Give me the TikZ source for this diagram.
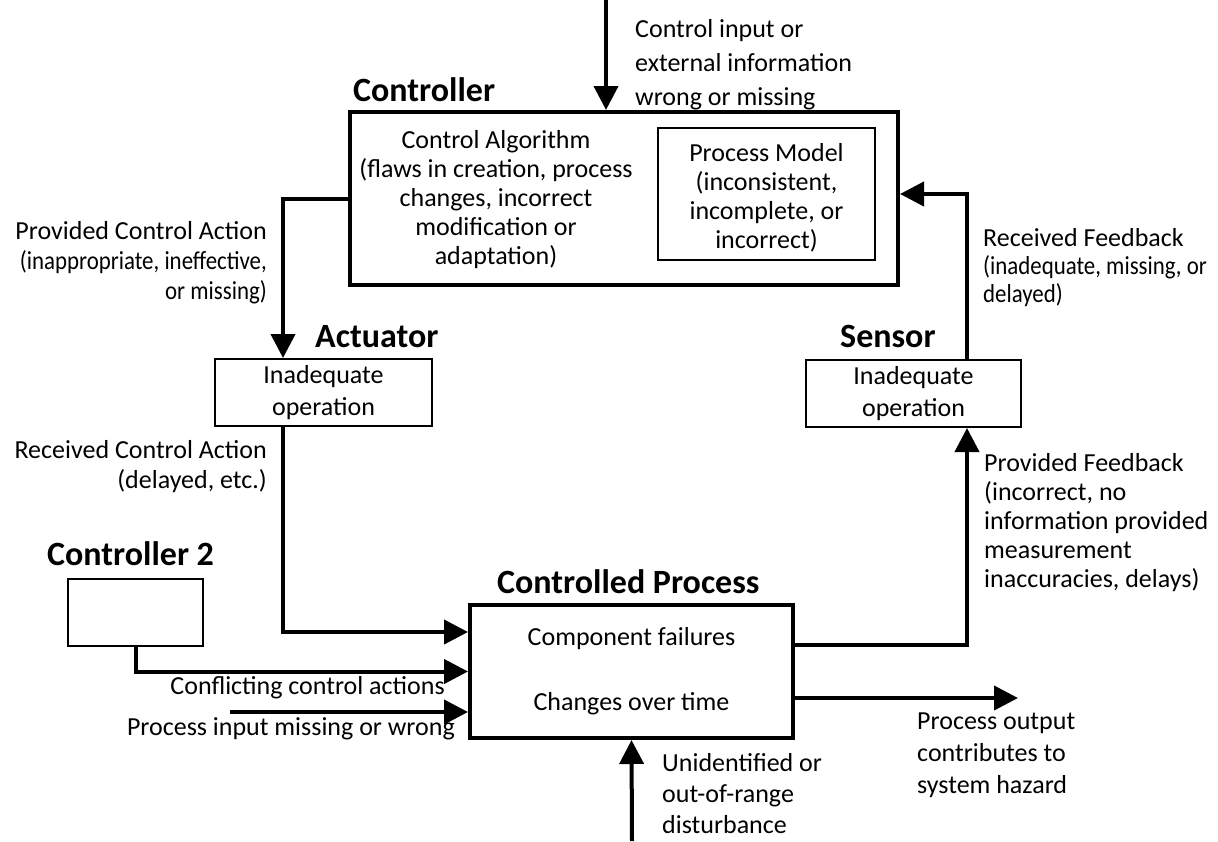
\documentclass[tikz,border=0pt]{standalone}
\usepackage{fontspec}
\setmainfont{Carlito}
\newfontfamily\narrowfont[FakeStretch=0.88]{Carlito}
\usetikzlibrary{arrows.meta}

\begin{document}
\begin{tikzpicture}[x=1pt,y=-1pt, >={Triangle[width=24pt,length=24pt]},
            every node/.style={font=\fontsize{26}{30}\selectfont},
            conn/.style={line width=4pt}]
            \tikzstyle{every node}+=[inner sep=0pt]
            \tikzstyle{mainbox}=[draw, line width=4pt]
            \tikzstyle{smallbox}=[draw, line width=2pt, align=center]
            \tikzstyle{title}=[anchor=base west, font=\fontsize{34}{40}\selectfont\bfseries]
            \useasboundingbox (0,0) rectangle (1218,841);
            \node [mainbox, minimum width=548pt, minimum height=173pt] (ctrl) at (624,198.5) {};
            \node [title] (ctrlT) at (353,101) {Controller};
            \node [align=center, font=\fontsize{26}{29}\selectfont] (alg) at (496,200) {Control Algorithm\\(flaws in creation, process\\changes, incorrect\\modification or\\adaptation)};
            \node [smallbox, minimum width=217pt, minimum height=132pt] (pm) at (766.5,194) {};
            \node [align=center, font=\fontsize{26}{29}\selectfont] (pmT) at (766.5,198) {Process Model\\(inconsistent,\\incomplete, or\\incorrect)};
            \node [smallbox, minimum width=217pt, minimum height=67pt, font=\fontsize{26}{32}\selectfont] (act) at (323.5,392.5) {Inadequate\\operation};
            \node [title] (actT) at (315,347) {Actuator};
            \node [smallbox, minimum width=215pt, minimum height=67pt, font=\fontsize{26}{32}\selectfont] (sens) at (913.5,393.5) {Inadequate\\operation};
            \node [title] (sensT) at (840,347) {Sensor};
            \node [mainbox, minimum width=323pt, minimum height=133pt, align=center] (proc) at (631.5,671.5) {Component failures\\[35pt]Changes over time};
            \node [title] (procT) at (497,593) {Controlled Process};
            \node [smallbox, minimum width=135pt, minimum height=67pt] (ctrl2) at (135.5,612.5) {};
            \node [title] (ctrl2T) at (47,565) {Controller 2};
            \coordinate (topin) at (606,0);
            \coordinate (pin) at (230,712);
            \coordinate (dist) at (632,841);
            \coordinate (out) at (1018,698);
            \draw [conn,->] (topin) -- (topin |- ctrl.north);
            \draw [conn,->] (ctrl.west) -| ([xshift=-40.5pt]act.north);
            \draw [conn,->] ([xshift=-40.5pt]act.south) |- ([yshift=39.5pt]proc.west);
            \draw [conn,->] (ctrl2.south) |- (proc.west);
            \draw [conn,->] (pin) -- (pin -| proc.west);
            \draw [conn,->] (dist) -- (proc.south);
            \draw [conn,->] ([yshift=-26.5pt]proc.east) -- (out);
            \draw [conn,->] ([yshift=26.5pt]proc.east) -| ([xshift=53.5pt]sens.south);
            \draw [conn,->] ([xshift=53.5pt]sens.north) |- ([yshift=4.5pt]ctrl.east);
            \node [anchor=west, align=left, font=\fontsize{26}{34}\selectfont] (inT) at (635,65) {Control input or\\external information\\wrong or missing};
            \node [anchor=east, align=right] (pcaT) at (267,263) {Provided Control Action\\{\narrowfont (inappropriate, ineffective,}\\{\narrowfont or missing)}};
            \node [anchor=east, align=right] (rcaT) at (267,467) {Received Control Action\\(delayed, etc.)};
            \node [anchor=west, align=left, font=\fontsize{26}{28}\selectfont] (rfbT) at (983,268) {Received Feedback\\{\narrowfont (inadequate, missing, or}\\{\narrowfont delayed)}};
            \node [anchor=west, align=left, font=\fontsize{26}{29}\selectfont] (pfbT) at (984,523) {Provided Feedback\\(incorrect, no\\information provided\\measurement\\inaccuracies, delays)};
            \node [anchor=east] (confT) at (445,688) {Conflicting control actions};
            \node [anchor=east] (pinT) at (455,729) {Process input missing or wrong};
            \node [anchor=west, align=left, font=\fontsize{26}{31}\selectfont] (distT) at (662,794) {Unidentified or\\out-of-range\\disturbance};
            \node [anchor=west, align=left, font=\fontsize{26}{32}\selectfont] (outT) at (917,755) {Process output\\contributes to\\system hazard};
        \end{tikzpicture}
\end{document}
